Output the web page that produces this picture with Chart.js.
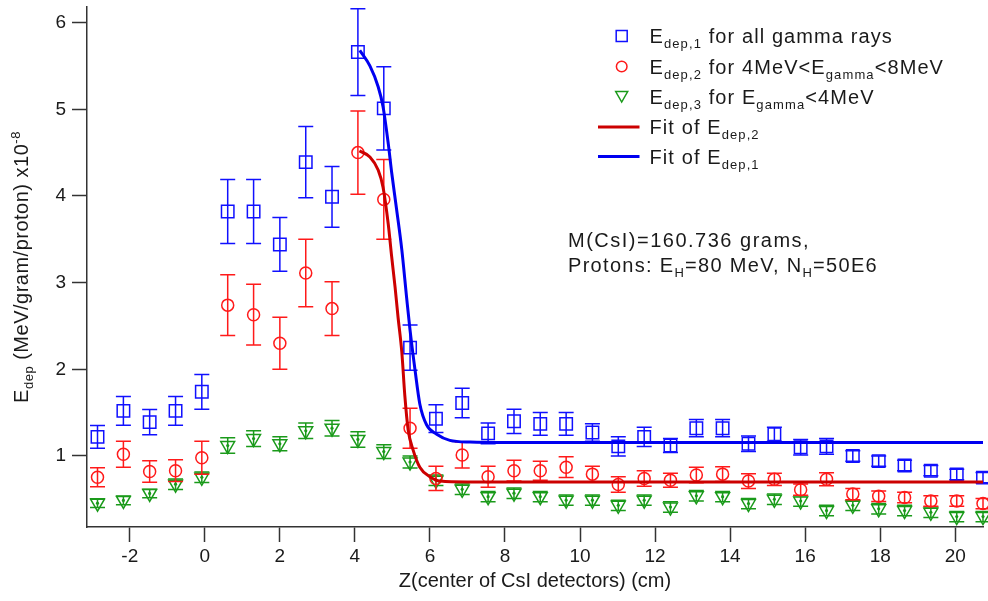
<!DOCTYPE html>
<html><head><meta charset="utf-8">
<script src="https://cdn.jsdelivr.net/npm/chart.js@4.4.0/dist/chart.umd.min.js"></script>
<style>html,body{margin:0;padding:0;background:#fff}#wrap{width:988px;height:601px}</style>
</head><body><div id="wrap"><canvas id="c" width="988" height="601"></canvas></div>
<script>
// ---- data ----
const zValues = [-2.86,-2.17,-1.47,-0.78,-0.08,0.61,1.30,2.00,2.69,3.39,4.08,4.77,5.47,6.16,6.86,7.55,8.24,8.94,9.63,10.33,11.02,11.71,12.41,13.10,13.80,14.49,15.18,15.88,16.57,17.27,17.96,18.65,19.35,20.04,20.74];
const blueY = [1.22,1.52,1.39,1.52,1.74,3.82,3.82,3.44,4.39,3.99,5.66,5.01,2.25,1.43,1.61,1.26,1.40,1.37,1.37,1.27,1.11,1.22,1.12,1.32,1.32,1.14,1.25,1.10,1.11,1.00,0.94,0.89,0.83,0.785,0.75];
const blueErr = [0.13,0.165,0.145,0.165,0.2,0.37,0.37,0.31,0.41,0.35,0.5,0.48,0.26,0.16,0.17,0.12,0.14,0.13,0.13,0.1,0.11,0.11,0.08,0.1,0.1,0.09,0.08,0.09,0.09,0.06,0.06,0.06,0.06,0.06,0.06];
const redY = [0.754,1.02,0.82,0.83,0.98,2.74,2.63,2.30,3.11,2.70,4.50,3.96,1.32,0.74,1.01,0.76,0.83,0.83,0.87,0.79,0.67,0.74,0.72,0.78,0.79,0.71,0.73,0.61,0.73,0.56,0.535,0.52,0.48,0.48,0.45];
const redErr = [0.11,0.15,0.125,0.125,0.19,0.35,0.35,0.3,0.39,0.31,0.48,0.46,0.23,0.14,0.15,0.12,0.12,0.11,0.12,0.09,0.09,0.09,0.08,0.09,0.085,0.085,0.07,0.065,0.075,0.065,0.06,0.06,0.06,0.06,0.06];
const greenY = [0.455,0.487,0.567,0.674,0.754,1.12,1.20,1.14,1.29,1.32,1.19,1.05,0.93,0.72,0.615,0.53,0.57,0.53,0.49,0.49,0.43,0.49,0.41,0.54,0.53,0.45,0.50,0.48,0.37,0.43,0.39,0.37,0.35,0.30,0.30];
const greenErr = [0.05,0.05,0.05,0.06,0.06,0.09,0.09,0.08,0.09,0.09,0.09,0.08,0.07,0.06,0.06,0.06,0.06,0.06,0.06,0.06,0.06,0.06,0.06,0.06,0.06,0.06,0.06,0.06,0.06,0.06,0.06,0.06,0.06,0.06,0.06];
const fit1X = [4.13,4.40,4.62,4.75,4.89,4.98,5.11,5.25,5.38,5.47,5.60,5.73,5.91,6.18,6.53,7.07,8.0,20.74];
const fit1Y = [5.68,5.50,5.26,5.03,4.60,4.27,3.85,3.38,2.82,2.45,2.00,1.60,1.36,1.25,1.18,1.16,1.155,1.155];
const fit2X = [4.12,4.40,4.62,4.75,4.89,4.98,5.07,5.15,5.25,5.33,5.42,5.55,5.73,6.0,6.27,7.0,20.74];
const fit2Y = [4.52,4.45,4.30,4.10,3.67,3.30,2.95,2.60,2.20,1.70,1.30,1.07,0.87,0.76,0.71,0.70,0.70];
const xTicks = [-2,0,2,4,6,8,10,12,14,16,18,20];
const yTicks = [1,2,3,4,5,6];
const xTitle = 'Z(center of CsI detectors) (cm)';
const yTitle = [{t:'E'},{t:'dep',sub:1},{t:' (MeV/gram/proton) x10'},{t:'-8',sup:1}];
const legendRows = [
  [{t:'E'},{t:'dep,1',sub:1},{t:' for all gamma rays'}],
  [{t:'E'},{t:'dep,2',sub:1},{t:' for 4MeV<E'},{t:'gamma',sub:1},{t:'<8MeV'}],
  [{t:'E'},{t:'dep,3',sub:1},{t:' for E'},{t:'gamma',sub:1},{t:'<4MeV'}],
  [{t:'Fit of E'},{t:'dep,2',sub:1}],
  [{t:'Fit of E'},{t:'dep,1',sub:1}]
];
const noteLines = [
  [{t:'M(CsI)=160.736 grams,'}],
  [{t:'Protons: E'},{t:'H',sub:1},{t:'=80 MeV, N'},{t:'H',sub:1},{t:'=50E6'}]
];

// ---- styling ----
const FAM = '"Liberation Sans", Arial, sans-serif';
const BLUE = '#1010ff', RED = '#ff1a1a', GREEN = '#1a9a1a', FITBLUE = '#0000f0', FITRED = '#cc0000';
const TXT = '#1a1a1a';

function pts(xs, ys){ return xs.map((x,i)=>({x:x, y:ys[i]})); }

function setFont(ctx, size, ls){ ctx.font = size+'px '+FAM; try{ ctx.letterSpacing = ls+'px'; }catch(e){} }
function richWidth(ctx, parts, size, sub, ls){
  let w = 0;
  parts.forEach(p=>{ setFont(ctx, (p.sub||p.sup)?sub:size, ls); w += ctx.measureText(p.t).width; });
  return w;
}
function drawRich(ctx, x, y, parts, size, sub, ls){
  parts.forEach(p=>{
    setFont(ctx, (p.sub||p.sup)?sub:size, ls);
    const dy = p.sub ? 5 : (p.sup ? -8 : 0);
    ctx.fillText(p.t, x, y+dy);
    x += ctx.measureText(p.t).width;
  });
  setFont(ctx, size, 0);
}

const errorBars = {
  id:'errorBars',
  afterDatasetDraw(chart, args){
    const ds = chart.data.datasets[args.index];
    if(!ds.errors) return;
    const ctx = chart.ctx, ys = chart.scales.y, cap = 7.5;
    ctx.save();
    ctx.strokeStyle = ds.borderColor; ctx.fillStyle = ds.borderColor; ctx.lineWidth = 1.5;
    args.meta.data.forEach((el,i)=>{
      const v = ds.data[i].y, e = ds.errors[i];
      const yt = ys.getPixelForValue(v+e), yb = ys.getPixelForValue(v-e), x = el.x;
      ctx.beginPath();
      ctx.moveTo(x, yt); ctx.lineTo(x, yb);
      ctx.moveTo(x-cap, yt); ctx.lineTo(x+cap, yt);
      ctx.moveTo(x-cap, yb); ctx.lineTo(x+cap, yb);
      ctx.stroke();
      if(ds.centerDot){ ctx.beginPath(); ctx.arc(x, el.y, 1.6, 0, Math.PI*2); ctx.fill(); }
    });
    ctx.restore();
  }
};

const decorations = {
  id:'decorations',
  afterDraw(chart){
    const ctx = chart.ctx;
    ctx.save();
    ctx.fillStyle = TXT; ctx.textBaseline = 'alphabetic'; ctx.textAlign = 'left';
    // y title
    ctx.save();
    ctx.translate(21, (chart.chartArea.top+chart.chartArea.bottom)/2);
    ctx.rotate(-Math.PI/2);
    const w = richWidth(ctx, yTitle, 20, 13, 0.5);
    drawRich(ctx, -w/2, 7, yTitle, 20, 13, 0.5);
    ctx.restore();
    // legend
    const rowsY = [36, 66.5, 96.5, 127, 156.5];
    const mx = 621.7, tx = 649.5;
    ctx.lineWidth = 1.5;
    ctx.strokeStyle = BLUE; ctx.strokeRect(mx-5.5, rowsY[0]-5.5, 11, 11);
    ctx.strokeStyle = RED; ctx.beginPath(); ctx.arc(mx, rowsY[1], 5.3, 0, Math.PI*2); ctx.stroke();
    ctx.strokeStyle = GREEN; ctx.beginPath();
    ctx.moveTo(mx-6, rowsY[2]-5); ctx.lineTo(mx+6, rowsY[2]-5); ctx.lineTo(mx, rowsY[2]+5.5); ctx.closePath(); ctx.stroke();
    ctx.lineWidth = 3;
    ctx.strokeStyle = FITRED; ctx.beginPath(); ctx.moveTo(598, rowsY[3]); ctx.lineTo(639.5, rowsY[3]); ctx.stroke();
    ctx.strokeStyle = FITBLUE; ctx.beginPath(); ctx.moveTo(598, rowsY[4]); ctx.lineTo(639.5, rowsY[4]); ctx.stroke();
    legendRows.forEach((r,i)=> drawRich(ctx, tx, rowsY[i]+7, r, 20, 13, 1.1));
    // annotation
    drawRich(ctx, 568, 247, noteLines[0], 20, 13, 1.5);
    drawRich(ctx, 568, 272, noteLines[1], 20, 13, 1.3);
    ctx.restore();
  }
};

function zeroPad(s){ s.paddingTop = 0; s.paddingBottom = 0; s.paddingLeft = 0; s.paddingRight = 0; }

new Chart(document.getElementById('c'), {
  type:'scatter',
  data:{ datasets:[
    {label:'fit1', data:pts(fit1X, fit1Y), showLine:true, borderColor:FITBLUE, borderWidth:3, pointRadius:0, cubicInterpolationMode:'monotone', order:0, clip:false},
    {label:'fit2', data:pts(fit2X, fit2Y), showLine:true, borderColor:FITRED, borderWidth:3, pointRadius:0, cubicInterpolationMode:'monotone', order:1, clip:false},
    {label:'E1', data:pts(zValues, blueY), errors:blueErr, pointStyle:'rect', pointRadius:8.8, borderColor:BLUE, backgroundColor:'rgba(0,0,0,0)', borderWidth:1.5, order:2, clip:false},
    {label:'E2', data:pts(zValues, redY), errors:redErr, pointStyle:'circle', pointRadius:6, borderColor:RED, backgroundColor:'rgba(0,0,0,0)', borderWidth:1.5, order:3, clip:false},
    {label:'E3', data:pts(zValues, greenY), errors:greenErr, centerDot:true, pointStyle:'triangle', pointRotation:180, pointRadius:8, borderColor:GREEN, backgroundColor:'rgba(0,0,0,0)', borderWidth:1.5, order:4, clip:false}
  ]},
  options:{
    responsive:false, animation:false, devicePixelRatio:1, events:[],
    layout:{autoPadding:false, padding:{top:7, right:5, left:0, bottom:0}},
    plugins:{legend:{display:false}, tooltip:{enabled:false}},
    scales:{
      x:{ type:'linear', min:-3.14, max:20.74,
        afterBuildTicks:s=>{ s.ticks = xTicks.map(v=>({value:v})); },
        afterFit:s=>{ s.height = 74; zeroPad(s); },
        ticks:{ font:{size:19, family:FAM}, color:TXT, padding:3, maxRotation:0, autoSkip:false },
        grid:{ drawOnChartArea:false, drawTicks:true, tickLength:15, tickWidth:1.5, tickColor:'#333' },
        border:{ display:true, color:'#333', width:1.5 },
        title:{ display:true, text:xTitle, font:{size:20, family:FAM}, color:TXT, padding:{top:0, bottom:8} }
      },
      y:{ type:'linear', min:0.18, max:6.18,
        afterBuildTicks:s=>{ s.ticks = yTicks.map(v=>({value:v})); },
        afterFit:s=>{ s.width = 87; zeroPad(s); },
        ticks:{ font:{size:19, family:FAM}, color:TXT, padding:6 },
        grid:{ drawOnChartArea:false, drawTicks:true, tickLength:15, tickWidth:1.5, tickColor:'#333' },
        border:{ display:true, color:'#333', width:1.5 }
      }
    }
  },
  plugins:[errorBars, decorations]
});
</script>
</body></html>
